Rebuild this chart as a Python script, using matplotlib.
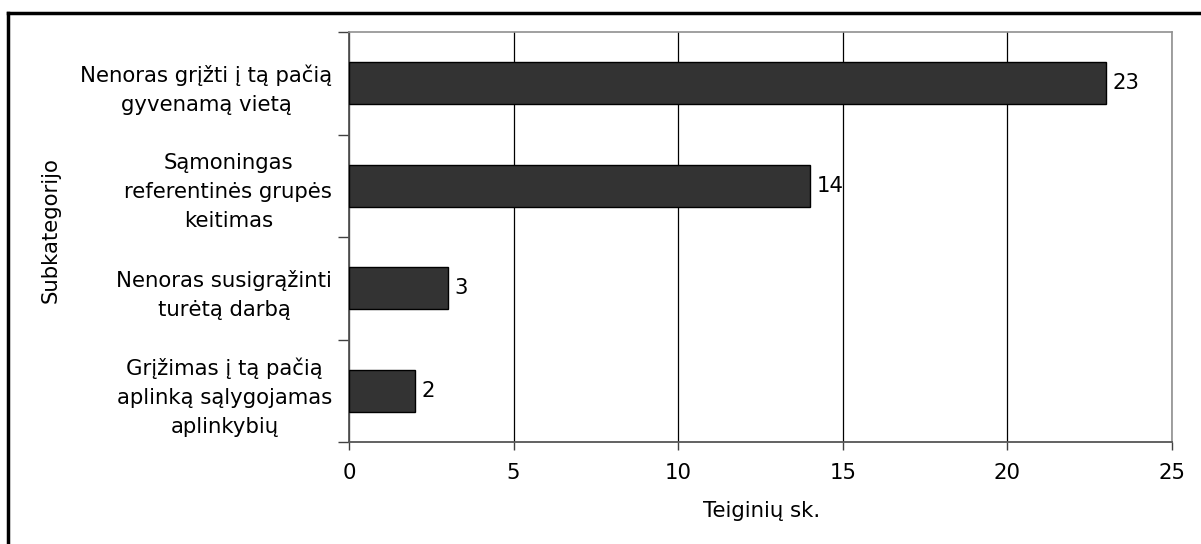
import matplotlib
matplotlib.use("Agg")
import matplotlib.pyplot as plt
from matplotlib.lines import Line2D

categories = [
    "Grįžimas į tą pačią\naplinką sąlygojamas\naplinkybių",
    "Nenoras susigrąžinti\nturėtą darbą",
    "Sąmoningas\nreferentinės grupės\nkeitimas",
    "Nenoras grįžti į tą pačią\ngyvenamą vietą",
]
values = [2, 3, 14, 23]
x_ticks = [0, 5, 10, 15, 20, 25]
x_label = "Teiginių sk."
y_label = "Subkategorijo"

plt.rcParams['font.family'] = ['DejaVu Sans']
fs = 15.3

fig = plt.figure(figsize=(12.01, 5.44), dpi=100)
ax = fig.add_axes([349/1201, 1-442/544, (1172-349)/1201, (442-32)/544])

ypos = list(range(len(categories)))
ax.barh(ypos, values, height=0.41, color='#333333', edgecolor='black', linewidth=1, zorder=3)
for y, v in zip(ypos, values):
    ax.text(v + 0.2, y, str(v), va='center', ha='left', fontsize=fs, color='black')

ax.set_xlim(0, 25)
ax.set_ylim(-0.5, len(categories) - 0.5)
ax.set_xticks(x_ticks)
ax.set_xticklabels([str(t) for t in x_ticks], fontsize=fs)
ax.tick_params(axis='x', direction='out', length=6, width=1, color='#404040', pad=9)

# y ticks at category boundaries (major), labels at centers (minor)
ax.set_yticks([i - 0.5 for i in range(len(categories) + 1)])
ax.set_yticklabels([])
ax.tick_params(axis='y', which='major', direction='out', length=8, width=1, color='#404040')
ax.set_yticks(ypos, minor=True)
ax.set_yticklabels(categories, minor=True, fontsize=fs, multialignment='center', linespacing=1.55)
ax.tick_params(axis='y', which='minor', length=0, pad=12)

ax.xaxis.grid(True, color='black', linewidth=0.9, zorder=1)
ax.set_axisbelow(True)
for s in ['left', 'bottom']:
    ax.spines[s].set_color('#555555')
    ax.spines[s].set_linewidth(1.3)
for s in ['top', 'right']:
    ax.spines[s].set_color('#909090')
    ax.spines[s].set_linewidth(1.2)

fig.text(762/1201, 1-511/544, x_label, ha='center', va='center', fontsize=fs)
fig.text(51/1201, 1-230/544, y_label, ha='center', va='center', rotation=90, fontsize=fs)

# outer frame (left and top visible)
fig.add_artist(Line2D([8/1201, 8/1201], [0, 1-13/544], transform=fig.transFigure, color='black', linewidth=2.5))
fig.add_artist(Line2D([8/1201, 1], [1-13/544, 1-13/544], transform=fig.transFigure, color='black', linewidth=2.5))

fig.savefig("out.png", dpi=100)
